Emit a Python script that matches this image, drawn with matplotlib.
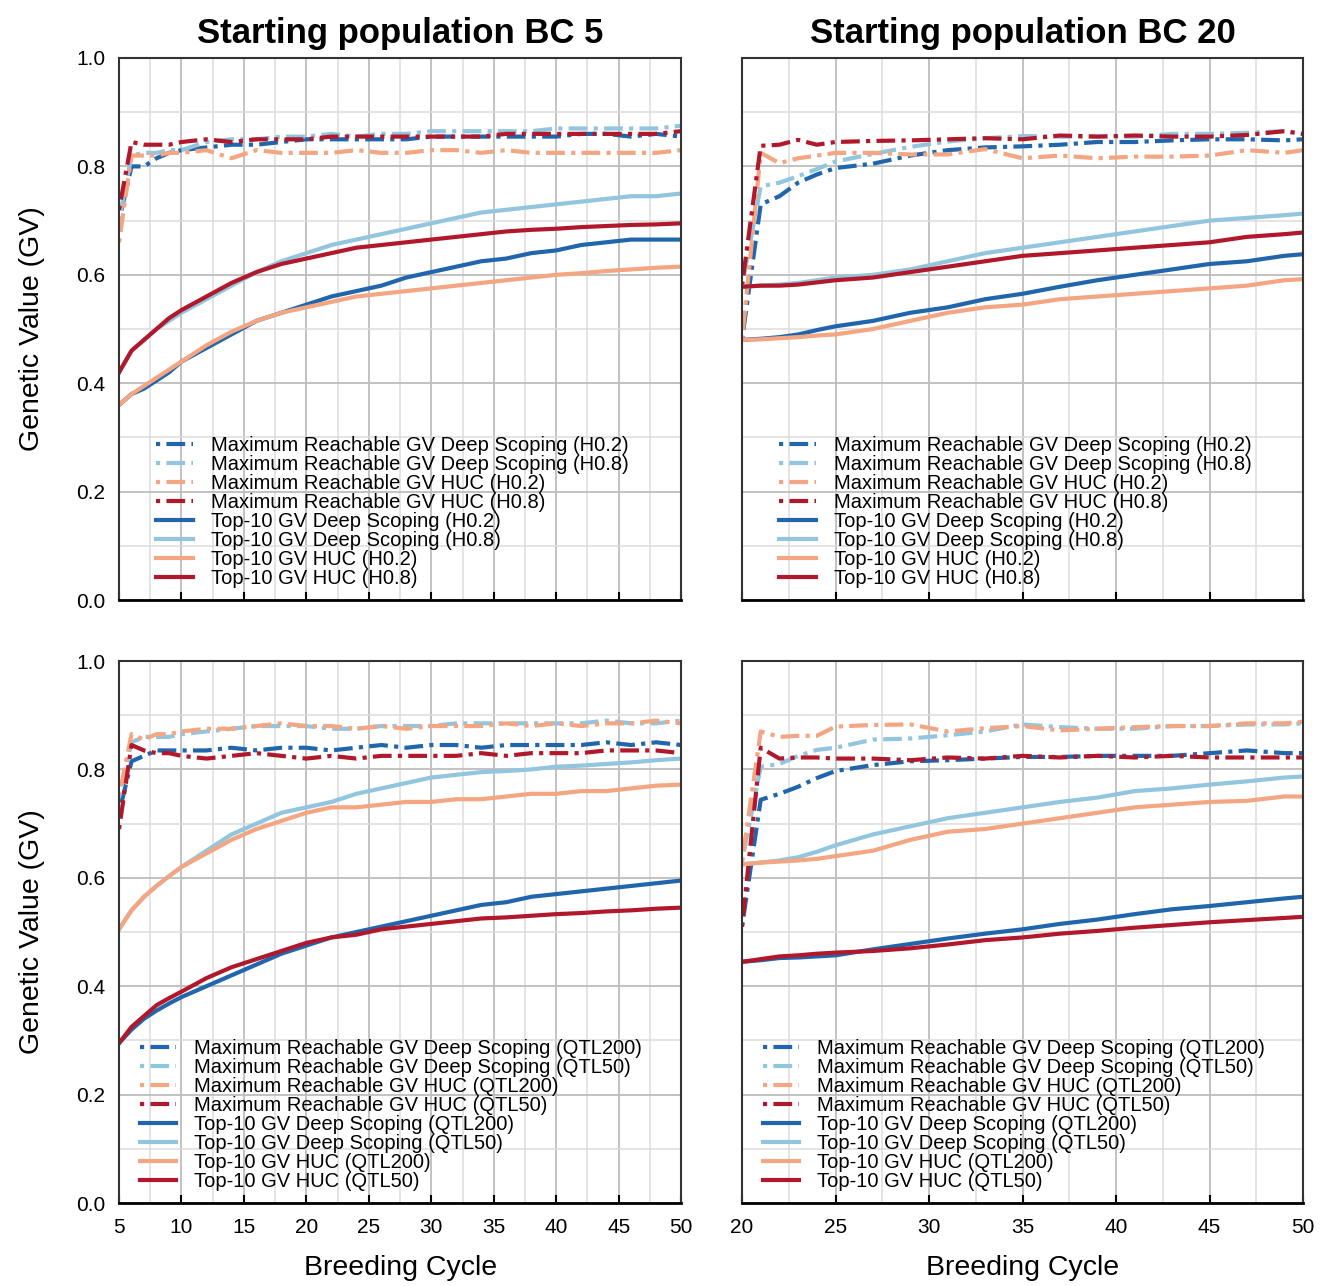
import numpy as np
import matplotlib
matplotlib.use('Agg')
import matplotlib.pyplot as plt
from matplotlib.ticker import MultipleLocator, FormatStrFormatter

plt.rcParams['font.family'] = ['Liberation Sans', 'DejaVu Sans']

# breeding cycles (sampled)
x_bc5 = [5, 6, 7, 8, 9, 10, 12, 14, 16, 18, 20, 22, 24, 26, 28, 30, 32, 34, 36, 38, 40, 42, 44, 46, 48, 50]
x_bc20 = [20, 21, 22, 23, 24, 25, 27, 29, 31, 33, 35, 37, 39, 41, 43, 45, 47, 49, 50]

# --- BC 5, heritability ---
h_bc5_max_ds02 = [0.70, 0.80, 0.80, 0.815, 0.825, 0.83, 0.835, 0.84, 0.84, 0.845, 0.85, 0.85, 0.85, 0.85, 0.85, 0.855, 0.855, 0.855, 0.855, 0.855, 0.855, 0.86, 0.86, 0.855, 0.86, 0.855]
h_bc5_max_ds08 = [0.70, 0.82, 0.825, 0.825, 0.83, 0.83, 0.845, 0.85, 0.85, 0.855, 0.855, 0.86, 0.855, 0.86, 0.86, 0.865, 0.865, 0.865, 0.865, 0.865, 0.87, 0.87, 0.87, 0.87, 0.87, 0.875]
h_bc5_max_huc02 = [0.66, 0.82, 0.82, 0.82, 0.825, 0.825, 0.83, 0.815, 0.83, 0.825, 0.825, 0.825, 0.83, 0.825, 0.825, 0.83, 0.83, 0.825, 0.83, 0.825, 0.825, 0.825, 0.825, 0.825, 0.825, 0.83]
h_bc5_max_huc08 = [0.72, 0.845, 0.84, 0.84, 0.84, 0.845, 0.85, 0.845, 0.85, 0.85, 0.85, 0.855, 0.855, 0.855, 0.855, 0.855, 0.855, 0.855, 0.86, 0.86, 0.86, 0.86, 0.86, 0.86, 0.86, 0.865]
h_bc5_top_ds02 = [0.36, 0.38, 0.39, 0.405, 0.42, 0.44, 0.465, 0.49, 0.515, 0.53, 0.545, 0.56, 0.57, 0.58, 0.595, 0.605, 0.615, 0.625, 0.63, 0.64, 0.645, 0.655, 0.66, 0.665, 0.665, 0.665]
h_bc5_top_ds08 = [0.42, 0.46, 0.48, 0.50, 0.515, 0.53, 0.555, 0.58, 0.605, 0.625, 0.64, 0.655, 0.665, 0.675, 0.685, 0.695, 0.705, 0.715, 0.72, 0.725, 0.73, 0.735, 0.74, 0.745, 0.745, 0.75]
h_bc5_top_huc02 = [0.36, 0.38, 0.395, 0.41, 0.425, 0.44, 0.47, 0.495, 0.515, 0.53, 0.54, 0.55, 0.56, 0.565, 0.57, 0.575, 0.58, 0.585, 0.59, 0.595, 0.60, 0.603, 0.607, 0.61, 0.613, 0.615]
h_bc5_top_huc08 = [0.42, 0.46, 0.48, 0.50, 0.52, 0.535, 0.56, 0.585, 0.605, 0.62, 0.63, 0.64, 0.65, 0.655, 0.66, 0.665, 0.67, 0.675, 0.68, 0.683, 0.685, 0.688, 0.69, 0.692, 0.693, 0.695]

# --- BC 20, heritability ---
h_bc20_max_ds02 = [0.48, 0.73, 0.745, 0.77, 0.785, 0.797, 0.805, 0.82, 0.83, 0.835, 0.837, 0.84, 0.845, 0.845, 0.848, 0.85, 0.85, 0.848, 0.85]
h_bc20_max_ds08 = [0.58, 0.763, 0.77, 0.782, 0.795, 0.809, 0.823, 0.836, 0.846, 0.852, 0.856, 0.855, 0.855, 0.855, 0.86, 0.86, 0.862, 0.865, 0.86]
h_bc20_max_huc02 = [0.48, 0.825, 0.806, 0.815, 0.82, 0.825, 0.825, 0.822, 0.822, 0.832, 0.815, 0.82, 0.815, 0.818, 0.818, 0.82, 0.83, 0.825, 0.83]
h_bc20_max_huc08 = [0.58, 0.838, 0.84, 0.849, 0.84, 0.845, 0.847, 0.848, 0.85, 0.852, 0.85, 0.857, 0.855, 0.857, 0.855, 0.855, 0.858, 0.865, 0.86]
h_bc20_top_ds02 = [0.48, 0.482, 0.485, 0.49, 0.498, 0.505, 0.515, 0.53, 0.54, 0.555, 0.565, 0.578, 0.59, 0.60, 0.61, 0.62, 0.625, 0.635, 0.638]
h_bc20_top_ds08 = [0.578, 0.58, 0.582, 0.585, 0.59, 0.595, 0.60, 0.61, 0.625, 0.64, 0.65, 0.66, 0.67, 0.68, 0.69, 0.70, 0.705, 0.71, 0.713]
h_bc20_top_huc02 = [0.48, 0.481, 0.483, 0.485, 0.488, 0.49, 0.50, 0.515, 0.53, 0.54, 0.545, 0.555, 0.56, 0.565, 0.57, 0.575, 0.58, 0.59, 0.592]
h_bc20_top_huc08 = [0.578, 0.58, 0.58, 0.582, 0.586, 0.59, 0.595, 0.605, 0.615, 0.625, 0.635, 0.64, 0.645, 0.65, 0.655, 0.66, 0.67, 0.675, 0.678]

# --- BC 5, QTL number ---
q_bc5_max_ds200 = [0.72, 0.815, 0.825, 0.835, 0.835, 0.835, 0.835, 0.84, 0.835, 0.84, 0.84, 0.835, 0.84, 0.845, 0.84, 0.845, 0.845, 0.84, 0.845, 0.845, 0.845, 0.845, 0.85, 0.845, 0.85, 0.845]
q_bc5_max_ds50 = [0.75, 0.85, 0.86, 0.86, 0.86, 0.865, 0.87, 0.875, 0.88, 0.88, 0.88, 0.875, 0.875, 0.88, 0.88, 0.88, 0.885, 0.885, 0.885, 0.885, 0.885, 0.885, 0.89, 0.885, 0.885, 0.89]
q_bc5_max_huc200 = [0.75, 0.865, 0.855, 0.865, 0.865, 0.87, 0.875, 0.875, 0.88, 0.885, 0.88, 0.88, 0.875, 0.88, 0.875, 0.88, 0.88, 0.88, 0.885, 0.88, 0.885, 0.88, 0.885, 0.885, 0.89, 0.885]
q_bc5_max_huc50 = [0.69, 0.845, 0.835, 0.83, 0.83, 0.825, 0.82, 0.825, 0.83, 0.825, 0.82, 0.825, 0.82, 0.825, 0.825, 0.825, 0.825, 0.83, 0.825, 0.83, 0.83, 0.83, 0.835, 0.835, 0.835, 0.83]
q_bc5_top_ds200 = [0.295, 0.32, 0.34, 0.355, 0.368, 0.38, 0.40, 0.42, 0.44, 0.46, 0.475, 0.49, 0.50, 0.51, 0.52, 0.53, 0.54, 0.55, 0.555, 0.565, 0.57, 0.575, 0.58, 0.585, 0.59, 0.595]
q_bc5_top_ds50 = [0.505, 0.54, 0.565, 0.585, 0.603, 0.62, 0.65, 0.68, 0.70, 0.72, 0.73, 0.74, 0.755, 0.765, 0.775, 0.785, 0.79, 0.795, 0.797, 0.80, 0.805, 0.807, 0.81, 0.813, 0.817, 0.82]
q_bc5_top_huc200 = [0.505, 0.54, 0.565, 0.585, 0.603, 0.62, 0.645, 0.67, 0.69, 0.705, 0.72, 0.73, 0.73, 0.735, 0.74, 0.74, 0.745, 0.745, 0.75, 0.755, 0.755, 0.76, 0.76, 0.765, 0.77, 0.772]
q_bc5_top_huc50 = [0.295, 0.325, 0.345, 0.365, 0.378, 0.39, 0.415, 0.435, 0.45, 0.465, 0.48, 0.49, 0.495, 0.505, 0.51, 0.515, 0.52, 0.525, 0.527, 0.53, 0.533, 0.535, 0.538, 0.54, 0.543, 0.545]

# --- BC 20, QTL number ---
q_bc20_max_ds200 = [0.51, 0.744, 0.755, 0.768, 0.784, 0.797, 0.808, 0.815, 0.817, 0.82, 0.823, 0.823, 0.825, 0.825, 0.825, 0.83, 0.835, 0.83, 0.83]
q_bc20_max_ds50 = [0.63, 0.805, 0.81, 0.825, 0.836, 0.84, 0.855, 0.857, 0.863, 0.87, 0.883, 0.878, 0.875, 0.875, 0.88, 0.88, 0.883, 0.883, 0.885]
q_bc20_max_huc200 = [0.63, 0.87, 0.86, 0.862, 0.862, 0.879, 0.882, 0.883, 0.87, 0.876, 0.88, 0.872, 0.875, 0.878, 0.88, 0.88, 0.885, 0.885, 0.888]
q_bc20_max_huc50 = [0.51, 0.84, 0.82, 0.822, 0.822, 0.82, 0.82, 0.817, 0.822, 0.82, 0.825, 0.822, 0.825, 0.822, 0.825, 0.822, 0.822, 0.822, 0.822]
q_bc20_top_ds200 = [0.445, 0.448, 0.452, 0.453, 0.455, 0.457, 0.468, 0.478, 0.488, 0.497, 0.505, 0.515, 0.523, 0.533, 0.542, 0.548, 0.555, 0.562, 0.565]
q_bc20_top_ds50 = [0.625, 0.628, 0.632, 0.638, 0.648, 0.66, 0.68, 0.695, 0.71, 0.72, 0.73, 0.74, 0.748, 0.76, 0.765, 0.772, 0.778, 0.785, 0.787]
q_bc20_top_huc200 = [0.625, 0.628, 0.63, 0.632, 0.635, 0.64, 0.65, 0.67, 0.685, 0.69, 0.70, 0.71, 0.72, 0.73, 0.735, 0.74, 0.742, 0.75, 0.75]
q_bc20_top_huc50 = [0.445, 0.45, 0.455, 0.457, 0.46, 0.462, 0.465, 0.47, 0.477, 0.485, 0.49, 0.497, 0.502, 0.508, 0.513, 0.518, 0.522, 0.526, 0.528]

colors = ['#2166AC', '#92C5DE', '#F4A582', '#B2182B']
h_labels = ['Maximum Reachable GV Deep Scoping (H0.2)', 'Maximum Reachable GV Deep Scoping (H0.8)',
            'Maximum Reachable GV HUC (H0.2)', 'Maximum Reachable GV HUC (H0.8)',
            'Top-10 GV Deep Scoping (H0.2)', 'Top-10 GV Deep Scoping (H0.8)',
            'Top-10 GV HUC (H0.2)', 'Top-10 GV HUC (H0.8)']
q_labels = ['Maximum Reachable GV Deep Scoping (QTL200)', 'Maximum Reachable GV Deep Scoping (QTL50)',
            'Maximum Reachable GV HUC (QTL200)', 'Maximum Reachable GV HUC (QTL50)',
            'Top-10 GV Deep Scoping (QTL200)', 'Top-10 GV Deep Scoping (QTL50)',
            'Top-10 GV HUC (QTL200)', 'Top-10 GV HUC (QTL50)']

panels = [
    (x_bc5, [h_bc5_max_ds02, h_bc5_max_ds08, h_bc5_max_huc02, h_bc5_max_huc08,
             h_bc5_top_ds02, h_bc5_top_ds08, h_bc5_top_huc02, h_bc5_top_huc08], h_labels),
    (x_bc20, [h_bc20_max_ds02, h_bc20_max_ds08, h_bc20_max_huc02, h_bc20_max_huc08,
              h_bc20_top_ds02, h_bc20_top_ds08, h_bc20_top_huc02, h_bc20_top_huc08], h_labels),
    (x_bc5, [q_bc5_max_ds200, q_bc5_max_ds50, q_bc5_max_huc200, q_bc5_max_huc50,
             q_bc5_top_ds200, q_bc5_top_ds50, q_bc5_top_huc200, q_bc5_top_huc50], q_labels),
    (x_bc20, [q_bc20_max_ds200, q_bc20_max_ds50, q_bc20_max_huc200, q_bc20_max_huc50,
              q_bc20_top_ds200, q_bc20_top_ds50, q_bc20_top_huc200, q_bc20_top_huc50], q_labels),
]

fig = plt.figure(figsize=(13.3, 12.86), dpi=100)
rects = [(0.0895, 0.5334, 0.4226, 0.4215), (0.5579, 0.5334, 0.4218, 0.4215),
         (0.0895, 0.0645, 0.4226, 0.4215), (0.5579, 0.0645, 0.4218, 0.4215)]

for i, (rect, (xs, series, labels)) in enumerate(zip(rects, panels)):
    ax = fig.add_axes(rect)
    for k, (ys, lab) in enumerate(zip(series, labels)):
        if k < 4:
            ax.plot(xs, ys, color=colors[k], lw=3, dashes=(1, 1.5, 4.5, 1.5), label=lab)
        else:
            ax.plot(xs, ys, color=colors[k - 4], lw=3, label=lab)

    ax.set_xlim(xs[0], xs[-1])
    ax.set_ylim(0, 1)
    ax.xaxis.set_major_locator(MultipleLocator(5))
    ax.xaxis.set_minor_locator(MultipleLocator(2.5))
    ax.yaxis.set_major_locator(MultipleLocator(0.2))
    ax.yaxis.set_minor_locator(MultipleLocator(0.1))
    ax.grid(which='major', color='#bdbdbd', lw=1.3)
    ax.grid(which='minor', color='#dcdcdc', lw=1.1)
    ax.set_axisbelow(True)
    for s in ax.spines.values():
        s.set_color('#333333')
        s.set_linewidth(1.5)
    ax.spines['bottom'].set_color('black')
    ax.spines['bottom'].set_linewidth(2)
    ax.tick_params(axis='x', which='major', direction='in', length=6, width=1.5, labelsize=15, pad=11)
    ax.tick_params(axis='x', which='minor', length=0)
    ax.tick_params(axis='y', which='both', length=0, labelsize=15, pad=10)
    ax.yaxis.set_major_formatter(FormatStrFormatter('%.1f'))

    if i % 2 == 1:
        ax.set_yticklabels([])
    else:
        ax.set_ylabel('Genetic Value (GV)', fontsize=20.5, labelpad=22)
    if i < 2:
        ax.set_xticklabels([])
        ax.set_title(['Starting population BC 5', 'Starting population BC 20'][i],
                     fontsize=25, fontweight='bold', pad=11)
    else:
        ax.set_xlabel('Breeding Cycle', fontsize=20.5, labelpad=13)

    ax.legend(loc='lower left', bbox_to_anchor=(0.045 if i < 2 else 0.015, 0.0),
              frameon=False, fontsize=14.5, labelspacing=0.0,
              handlelength=1.8, handletextpad=0.9, borderaxespad=0.2)

plt.savefig('out.png', dpi=100)
